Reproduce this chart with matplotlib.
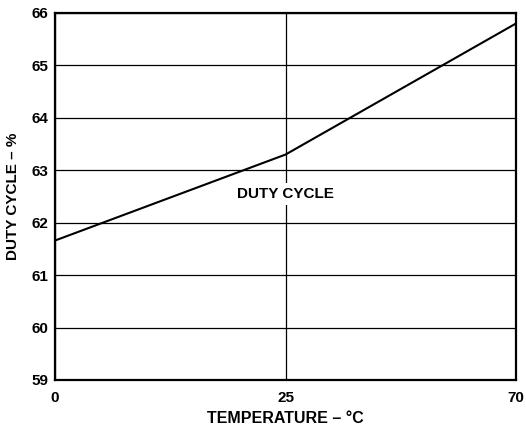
import matplotlib.pyplot as plt

# duty cycle vs temperature (x axis is not linear: 0, 25, 70 equally spaced)
temps = ["0", "25", "70"]
duty = [61.66, 63.30, 65.80]
yticks = [59, 60, 61, 62, 63, 64, 65, 66]

plt.rcParams['font.family'] = ['Liberation Sans', 'DejaVu Sans']
plt.rcParams['font.weight'] = 'bold'

fig = plt.figure(figsize=(5.26, 4.26), dpi=100)
ax = fig.add_axes([0.1046, 0.108, 0.8764, 0.8615])

pos = list(range(len(temps)))
ax.plot(pos, duty, color='black', lw=1.5, zorder=3)

ax.set_xlim(0, len(temps) - 1)
ax.set_ylim(yticks[0], yticks[-1])
ax.set_xticks(pos)
ax.set_xticklabels(temps)
ax.set_yticks(yticks)

ax.grid(True, color='black', lw=0.9)
ax.tick_params(length=0, labelsize=11)
ax.tick_params(axis='x', pad=8)
ax.tick_params(axis='y', pad=5)
for s in ax.spines.values():
    s.set_linewidth(1.6)

ax.text(1, 62.55, "DUTY CYCLE", ha='center', va='center', fontsize=11,
        fontweight='bold', zorder=4,
        bbox=dict(facecolor='white', edgecolor='none', pad=3))

ax.set_xlabel("TEMPERATURE – °C", fontsize=11.5, fontweight='bold', labelpad=4)
ax.set_ylabel("DUTY CYCLE – %", fontsize=11, fontweight='bold', labelpad=8)

fig.savefig("out.png", dpi=100)
